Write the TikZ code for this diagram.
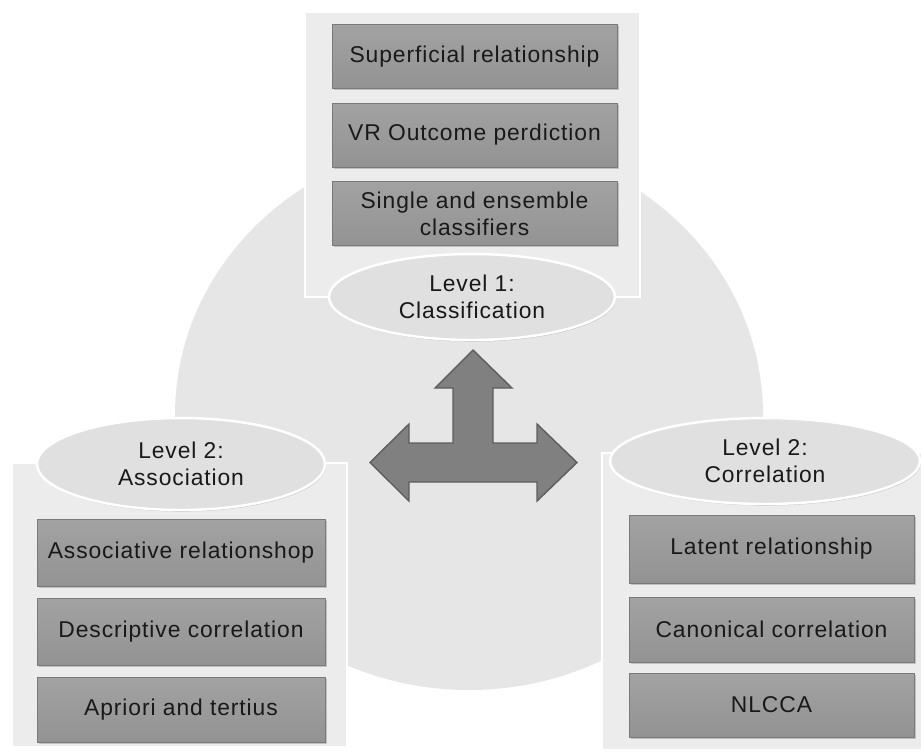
\documentclass[tikz,border=0pt]{standalone}
\usepackage{fontspec}
\setmainfont{Liberation Sans}[LetterSpace=4]
\usetikzlibrary{shapes.geometric}
\usetikzlibrary{shadows}

\definecolor{bggray}{HTML}{E6E6E6}
\definecolor{panelgray}{HTML}{ECECEC}
\definecolor{boxtop}{HTML}{A2A2A2}
\definecolor{boxbottom}{HTML}{939393}
\definecolor{boxline}{HTML}{7A7A7A}
\definecolor{levelgray}{HTML}{E0E0E0}
\definecolor{arrowgray}{HTML}{808080}
\definecolor{arrowline}{HTML}{5E5E5E}

\begin{document}
\begin{tikzpicture}[x=0.02cm, y=-0.02cm,
    panel/.style={draw=white, line width=1.3pt, fill=panelgray,
        drop shadow={opacity=0.4, shadow xshift=0.7pt, shadow yshift=-0.7pt}},
    itembox/.style={rectangle, draw=boxline, top color=boxtop, bottom color=boxbottom,
        text=black!90, minimum width=5.7cm, minimum height=1.28cm, align=center,
        font=\fontsize{13}{15.3}\selectfont,
        drop shadow={opacity=0.4, shadow xshift=0.9pt, shadow yshift=-0.9pt}},
    level/.style={ellipse, draw=white, line width=1.4pt, fill=levelgray,
        inner sep=0pt, align=center, text=black!90,
        font=\fontsize{13}{15.3}\selectfont,
        drop shadow={opacity=0.35, shadow xshift=0.5pt, shadow yshift=-0.9pt}}]
    \useasboundingbox (0,0) rectangle (921,752);

    % background disc
    \fill[bggray] (469,415) ellipse [x radius=294, y radius=275];

    % the three panels
    \draw[panel] (305,12) rectangle (640,297);
    \draw[panel] (12,463) rectangle (347,747);
    \draw[panel] (602,453) rectangle (945,750);

    % Level 1
    \node[itembox] (superf) at (474.5,56.5) {Superficial relationship};
    \node[itembox] (vrout) at (474.5,135) {VR Outcome perdiction};
    \node[itembox] (single) at (474.5,213.5) {Single and ensemble\\classifiers};
    \node[level, minimum width=5.72cm, minimum height=1.72cm] (classif) at (472,297) {Level 1:\\Classification};

    % Level 2 left
    \node[itembox, minimum width=5.76cm, minimum height=1.34cm] (assocrel) at (181,553) {Associative relationshop};
    \node[itembox, minimum width=5.76cm, minimum height=1.34cm] (descorr) at (181,631.5) {Descriptive correlation};
    \node[itembox, minimum width=5.76cm, minimum height=1.3cm] (apriori) at (181,709.5) {Apriori and tertius};
    \node[level, minimum width=5.76cm, minimum height=1.84cm] (assoc) at (181,464) {Level 2:\\Association};

    % Level 2 right
    \node[itembox, minimum height=1.36cm] (latent) at (771.5,549) {Latent relationship};
    \node[itembox, minimum height=1.3cm] (canon) at (771.5,629.5) {Canonical correlation};
    \node[itembox] (nlcca) at (771.5,705) {NLCCA};
    \node[level, minimum width=6.2cm, minimum height=1.72cm] (correl) at (765,461) {Level 2:\\Correlation};

    % three-way arrow
    \draw[fill=arrowgray, draw=arrowline, line width=0.8pt, line join=miter]
        (473,350) -- (512,388) -- (493,388) -- (493,443) -- (537,443) -- (537,424)
        -- (577,462.5) -- (537,501) -- (537,482) -- (409,482) -- (409,501)
        -- (370,462.5) -- (409,424) -- (409,443) -- (453,443) -- (453,388)
        -- (435,388) -- cycle;
\end{tikzpicture}
\end{document}
